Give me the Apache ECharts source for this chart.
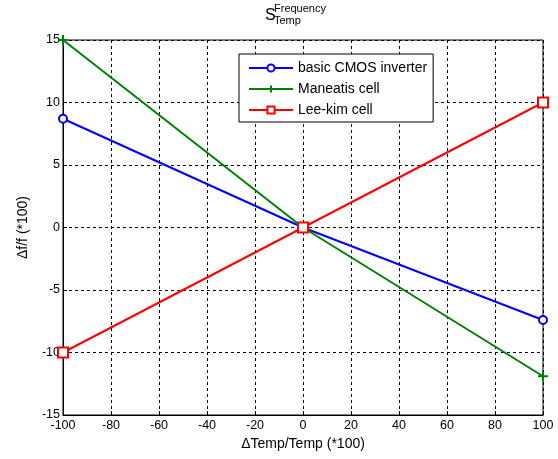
<!DOCTYPE html>
<html>
<head>
<meta charset="utf-8">
<script src="https://cdn.jsdelivr.net/npm/echarts@6/dist/echarts.min.js"></script>
<style>
html,body{margin:0;padding:0;background:#fff;}
#chart{width:558px;height:459px;}
</style>
</head>
<body>
<div id="chart"></div>
<script>
var xValues = [-100, 0, 100];
var cmosValues = [8.7, 0, -7.4];
var maneatisValues = [15, 0, -11.9];
var leekimValues = [-10, 0, 10];
var seriesNames = ['basic CMOS inverter', 'Maneatis cell', 'Lee-kim cell'];
var xTicks = { min: -100, max: 100, interval: 20 };
var yTicks = { min: -15, max: 15, interval: 5 };

function pairs(ys) { return xValues.map(function (x, i) { return [x, ys[i]]; }); }

var FONT = '"Liberation Sans", Arial, sans-serif';
var chart = echarts.init(document.getElementById('chart'), null, { renderer: 'canvas' });
var plusPath = 'path://M0,5L10,5M5,0L5,10';

chart.setOption({
  backgroundColor: '#fff',
  animation: false,
  grid: { left: 63, right: 15, top: 40, bottom: 44, show: true, borderColor: '#000', borderWidth: 1, backgroundColor: 'transparent' },
  xAxis: {
    type: 'value', min: xTicks.min, max: xTicks.max, interval: xTicks.interval,
    name: 'ΔTemp/Temp (*100)', nameLocation: 'middle', nameGap: 21,
    nameTextStyle: { fontFamily: FONT, fontSize: 14, color: '#000' },
    axisLine: { show: true, onZero: false, lineStyle: { color: '#000', width: 1 } },
    axisTick: { show: true, inside: true, length: 4, lineStyle: { color: '#000' } },
    axisLabel: { fontFamily: FONT, fontSize: 12.5, color: '#000', margin: 4 },
    splitLine: { show: true, lineStyle: { color: '#000', type: [3, 3], width: 1 } }
  },
  yAxis: {
    type: 'value', min: yTicks.min, max: yTicks.max, interval: yTicks.interval,
    name: 'Δf/f (*100)', nameLocation: 'middle', nameGap: 33, nameRotate: 90,
    nameTextStyle: { fontFamily: FONT, fontSize: 14, color: '#000' },
    axisLine: { show: true, onZero: false, lineStyle: { color: '#000', width: 1 } },
    axisTick: { show: true, inside: true, length: 4, lineStyle: { color: '#000' } },
    axisLabel: { fontFamily: FONT, fontSize: 12.5, color: '#000', margin: 3 },
    splitLine: { show: true, lineStyle: { color: '#000', type: [3, 3], width: 1 } }
  },
  legend: {
    orient: 'vertical', left: 239, top: 54,
    backgroundColor: '#fff', borderColor: '#000', borderWidth: 1,
    padding: [7, 6, 5, 9],
    itemWidth: 44, itemHeight: 9, itemGap: 7,
    textStyle: { fontFamily: FONT, fontSize: 14, color: '#000', lineHeight: 14 },
    data: seriesNames
  },
  graphic: [
    { type: 'text', left: 265, top: 8, style: { text: 'S', font: '16px ' + FONT, fill: '#000' } },
    { type: 'text', left: 274, top: 3, style: { text: 'Frequency', font: '11px ' + FONT, fill: '#000' } },
    { type: 'text', left: 274, top: 15, style: { text: 'Temp', font: '11px ' + FONT, fill: '#000' } }
  ],
  series: [
    {
      name: seriesNames[0], type: 'line', data: pairs(cmosValues),
      symbol: 'emptyCircle', symbolSize: 8,
      lineStyle: { color: '#0000ff', width: 2 },
      itemStyle: { color: '#0000ff', borderWidth: 1.5 }
    },
    {
      name: seriesNames[1], type: 'line', data: pairs(maneatisValues),
      symbol: plusPath, symbolSize: 10,
      lineStyle: { color: '#008000', width: 2 },
      itemStyle: { color: '#008000', borderColor: '#008000', borderWidth: 2 }
    },
    {
      name: seriesNames[2], type: 'line', data: pairs(leekimValues),
      symbol: 'emptyRect', symbolSize: 10,
      lineStyle: { color: '#ff0000', width: 2 },
      itemStyle: { color: '#ff0000', borderWidth: 1.5 }
    }
  ]
});
</script>
</body>
</html>
